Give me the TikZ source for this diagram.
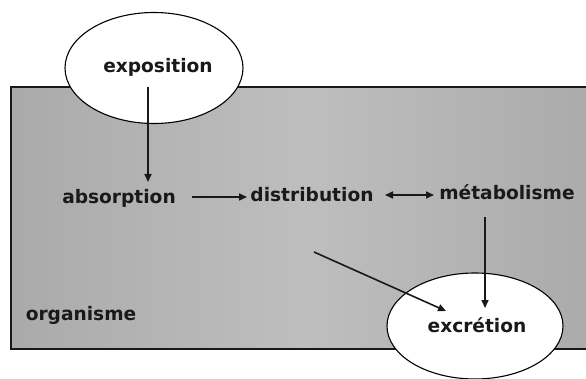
\documentclass[tikz,border=0pt]{standalone}
\usepackage{fontspec}
\setmainfont{DejaVu Sans}
\usetikzlibrary{arrows.meta,shapes.geometric}
\definecolor{bodygray}{RGB}{170,170,170}
\definecolor{bodylight}{RGB}{190,190,190}
\definecolor{inkgray}{RGB}{25,25,25}
\tikzset{
  lbl/.style={font=\bfseries\fontsize{18.6}{22}\selectfont, text=inkgray, inner sep=0pt, text height=14pt, text depth=4pt},
  bubble/.style={ellipse, draw=black, line width=1.1pt, fill=white},
  flow/.style={line width=1.6pt, draw=inkgray, -{Triangle[length=8pt,width=7pt]}},
  flowboth/.style={line width=1.6pt, draw=inkgray, {Triangle[length=8pt,width=7pt]}-{Triangle[length=8pt,width=7pt]}}
}
\begin{document}
\begin{tikzpicture}[x=1pt,y=-1pt]
\useasboundingbox (0,0) rectangle (586,379);
\clip (0,0) rectangle (586,379);
\fill[white] (0,0) rectangle (586,379);
% organism body
\draw[line width=1.4pt, draw=inkgray, left color=bodygray, right color=bodygray, middle color=bodylight] (11,87) rectangle (600,349);
% ellipses
\node[bubble, minimum width=178pt, minimum height=111pt] (expo) at (154,68) {};
\node[lbl] (expoT) at (158,68) {exposition};
\node[bubble, minimum width=176pt, minimum height=106pt] (excr) at (475,326) {};
\node[lbl] (excrT) at (477,327) {excrétion};
% labels
\node[lbl] (abs) at (119,199) {absorption};
\node[lbl] (dist) at (312,197) {distribution};
\node[lbl] (meta) at (507,195) {métabolisme};
\node[lbl] (org) at (81,315) {organisme};
% connector anchors
\coordinate (e1) at (148,87);
\coordinate (e2) at (148,182);
\coordinate (a1) at (192,197);
\coordinate (d1) at (247,197);
\coordinate (d2) at (385,195);
\coordinate (m1) at (434,195);
\coordinate (m2) at (485,217);
\coordinate (x1) at (485,308);
\coordinate (d3) at (314,252);
\coordinate (x2) at (446,311);
\draw[flow] (e1) -- (e2);
\draw[flow] (a1) -- (d1);
\draw[flowboth] (d2) -- (m1);
\draw[flow] (m2) -- (x1);
\draw[flow] (d3) -- (x2);
\end{tikzpicture}
\end{document}
